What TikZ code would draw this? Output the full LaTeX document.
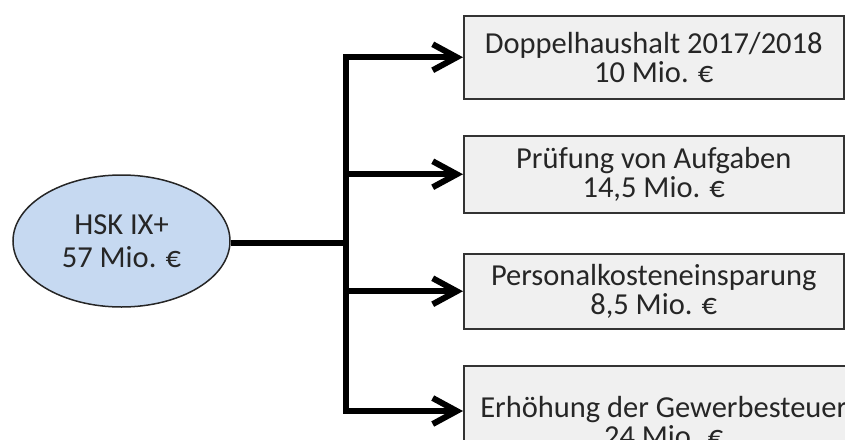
\documentclass[tikz,border=0pt]{standalone}
\usepackage{fontspec}
\setmainfont{Carlito}
\usetikzlibrary{arrows.meta,shapes.geometric}
\definecolor{ellfill}{HTML}{C6D9F1}
\definecolor{boxfill}{HTML}{F0F0F0}
\definecolor{txt}{HTML}{262626}
\tikzset{
  ell/.style={ellipse, draw=black!85, line width=1.5pt, fill=ellfill, text=txt,
    minimum width=217pt, minimum height=132pt, inner sep=0pt, align=center,
    font=\fontsize{30.5}{33}\selectfont},
  box/.style={rectangle, draw=black!80, line width=1.5pt, fill=boxfill, text=txt,
    anchor=north west, inner sep=0pt, align=center,
    font=\fontsize{30.5}{29}\selectfont},
  conn/.style={line width=6pt, line join=miter, draw=black},
  arr/.style={conn, -{Straight Barb[length=24pt,width=26pt]}},
}
\begin{document}
\begin{tikzpicture}[x=1pt,y=-1pt]
\useasboundingbox (0,0) rectangle (845,439);
\clip (0,0) rectangle (845,439);
\node[ell] (e) at (121.5,241) {HSK IX+\\57 Mio. €};
\node[box, minimum width=380pt, minimum height=83pt] (b1) at (463,15) {Doppelhaushalt 2017/2018\\10 Mio. €};
\node[box, minimum width=380pt, minimum height=77pt] (b2) at (463,135) {Prüfung von Aufgaben\\14,5 Mio. €};
\node[box, minimum width=380pt, minimum height=75pt] (b3) at (463,253) {Personalkosteneinsparung\\8,5 Mio. €};
\node[box, minimum width=400pt, minimum height=112pt] (b4) at (463,365) {Erhöhung der Gewerbesteuer\\24 Mio. €};
\coordinate (j0) at (346,243);
\coordinate (t4) at (346,411);
\draw[conn] (e.east |- j0) -- (j0);
\draw[arr] (j0) |- (b1.west);
\draw[arr] (b2.west -| j0) -- (b2.west);
\draw[arr] (b3.west -| j0) -- (b3.west);
\draw[arr] (j0) |- (b4.west |- t4);
\end{tikzpicture}
\end{document}
